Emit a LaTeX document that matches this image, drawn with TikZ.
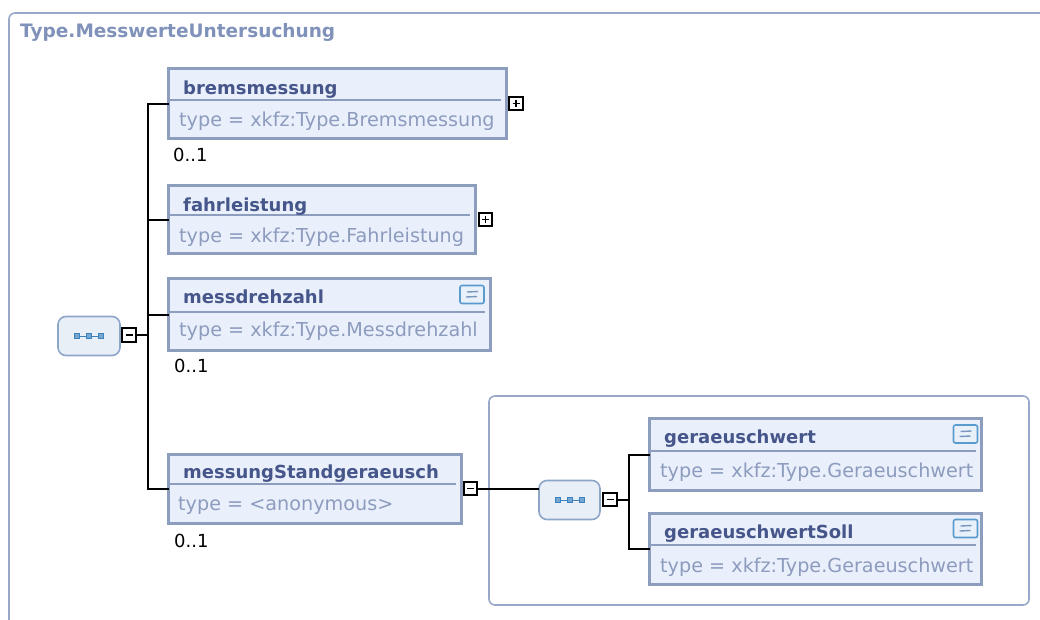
\documentclass[tikz,border=0pt]{standalone}
\usepackage{fontspec}
\setmainfont{DejaVu Sans}
\definecolor{ttlc}{RGB}{128,146,186}
\definecolor{namec}{RGB}{70,86,138}
\definecolor{typec}{RGB}{140,155,190}
\definecolor{boxc}{RGB}{141,157,190}
\definecolor{boxf}{RGB}{234,240,251}
\definecolor{framec}{RGB}{152,168,200}
\definecolor{seqc}{RGB}{140,166,200}
\definecolor{seqf}{RGB}{232,239,247}
\definecolor{dotc}{RGB}{60,130,190}
\definecolor{docc}{RGB}{90,155,205}
\definecolor{docf}{RGB}{232,241,250}
\definecolor{docl}{RGB}{120,150,190}
\tikzset{
 elembox/.style={draw=boxc, line width=3.2pt, fill=boxf, anchor=north west, inner sep=0pt, outer sep=0pt},
 divline/.style={draw=boxc, line width=1.5pt},
 ename/.style={anchor=base west, inner sep=0pt, text=namec, font=\fontsize{18}{20}\selectfont\bfseries},
 etype/.style={anchor=base west, inner sep=0pt, text=typec, font=\fontsize{19.2}{21}\selectfont},
 card/.style={anchor=base west, inner sep=0pt, text=black, font=\fontsize{18}{20}\selectfont},
 conn/.style={draw=black, line width=2pt},
 toggle/.style={draw=black, line width=1.6pt, fill=white, minimum size=13.5pt, inner sep=0pt, outer sep=0pt},
 togmark/.style={draw=black, line width=1.6pt},
 seqbox/.style={draw=seqc, line width=1.6pt, fill=seqf, rounded corners=8pt, minimum width=62pt, minimum height=39pt, inner sep=0pt, outer sep=0pt},
 docicon/.style={draw=docc, fill=docf, line width=1.6pt, rounded corners=2pt, minimum width=24pt, minimum height=18pt, inner sep=0pt},
 docmark/.style={draw=docl, line width=1.4pt},
 frameline/.style={draw=framec, line width=1.6pt, rounded corners=6pt},
}
\begin{document}
\begin{tikzpicture}[x=1pt,y=-1pt]
\useasboundingbox (0,0) rectangle (1040,619);
% frames
\draw[frameline] (9,625) -- (9,13) -- (1046,13);
\draw[frameline] (489,396) rectangle (1029,605);
\node[anchor=base west, inner sep=0pt, text=ttlc, font=\fontsize{18.5}{20}\selectfont\bfseries] (title) at (20,37) {Type.MesswerteUntersuchung};

% element boxes
\node[elembox, minimum width=338pt, minimum height=70pt] (brems) at (168.5,68.5) {};
\draw[divline] (169,100) -- (501,100);
\node[ename] (bremsN) at (183,94) {bremsmessung};
\node[etype] (bremsT) at (179,126) {type = xkfz:Type.Bremsmessung};
\node[card] (bremsC) at (173,161) {0..1};

\node[elembox, minimum width=307pt, minimum height=68pt] (fahr) at (168.5,185.5) {};
\draw[divline] (169,215) -- (470,215);
\node[ename] (fahrN) at (183,211) {fahrleistung};
\node[etype] (fahrT) at (179,242) {type = xkfz:Type.Fahrleistung};

\node[elembox, minimum width=322pt, minimum height=72pt] (mess) at (168.5,278.5) {};
\draw[divline] (169,312) -- (485,312);
\node[ename] (messN) at (183,303) {messdrehzahl};
\node[etype] (messT) at (179,336) {type = xkfz:Type.Messdrehzahl};
\node[card] (messC) at (174,372) {0..1};

\node[elembox, minimum width=293pt, minimum height=69pt] (mstand) at (168.5,454.5) {};
\draw[divline] (169,484) -- (456,484);
\node[ename] (mstandN) at (183,478) {messungStandgeraeusch};
\node[etype] (mstandT) at (178,510) {type = <anonymous>};
\node[card] (mstandC) at (174,547) {0..1};

\node[elembox, minimum width=332pt, minimum height=72pt] (gera) at (649.5,418.5) {};
\draw[divline] (650,451) -- (976,451);
\node[ename] (geraN) at (664,443) {geraeuschwert};
\node[etype] (geraT) at (660,477) {type = xkfz:Type.Geraeuschwert};

\node[elembox, minimum width=332pt, minimum height=71pt] (geras) at (649.5,513.5) {};
\draw[divline] (650,545) -- (976,545);
\node[ename] (gerasN) at (664,538) {geraeuschwertSoll};
\node[etype] (gerasT) at (660,572) {type = xkfz:Type.Geraeuschwert};

% doc icons
\foreach \nm/\px/\py in {dm/472/294.5, dg/965.5/434, dgs/965.5/528.5}{
  \node[docicon] (\nm) at (\px,\py) {};
  \draw[docmark] (\nm.center) ++(-5,-2.5) -- ++(11,-0.5) (\nm.center) ++(-6,2.5) -- ++(11,-0.5);
}

% sequence nodes
\node[seqbox] (s1) at (89,336) {};
\node[seqbox, minimum width=61pt] (s2) at (569.5,500) {};
\foreach \s in {s1,s2}{
  \draw[dotc, line width=0.8pt] (\s.center) ++(-12,0) -- ++(24,0);
  \foreach \d in {-12,0,12}
    \draw[dotc, fill=dotc!70, line width=0.7pt] (\s.center) ++(\d-2.5,-2.5) rectangle ++(5,5);
}

% toggles
\node[toggle] (pb) at (516,103.5) {};
\draw[togmark] (pb.center) ++(-3.5,0) -- ++(7,0) (pb.center) ++(0,-3.5) -- ++(0,7);
\node[toggle] (pf) at (485.5,219.5) {};
\draw[togmark] (pf.center) ++(-3.5,0) -- ++(7,0) (pf.center) ++(0,-3.5) -- ++(0,7);
\node[toggle] (mm) at (470.5,488.5) {};
\draw[togmark] (mm.center) ++(-3.5,0) -- ++(7,0);
\node[toggle] (m1) at (129,335) {};
\draw[togmark] (m1.center) ++(-3.5,0) -- ++(7,0);
\node[toggle] (m2) at (610,499.5) {};
\draw[togmark] (m2.center) ++(-3.5,0) -- ++(7,0);

% connectors
\coordinate (tr1) at (148,335);
\coordinate (tr2) at (629,499.5);
\draw[conn] (m1.east) -- (tr1);
\draw[conn] (brems.west) -| (tr1);
\draw[conn] (fahr.west) -| (tr1);
\draw[conn] (mess.west) -| (tr1);
\draw[conn] (mstand.west) -| (tr1);
\draw[conn] (mm.east) -- (s2.west |- mm.east);
\draw[conn] (m2.east) -- (tr2);
\draw[conn] (gera.west) -| (tr2);
\draw[conn] (geras.west) -| (tr2);
\end{tikzpicture}
\end{document}
